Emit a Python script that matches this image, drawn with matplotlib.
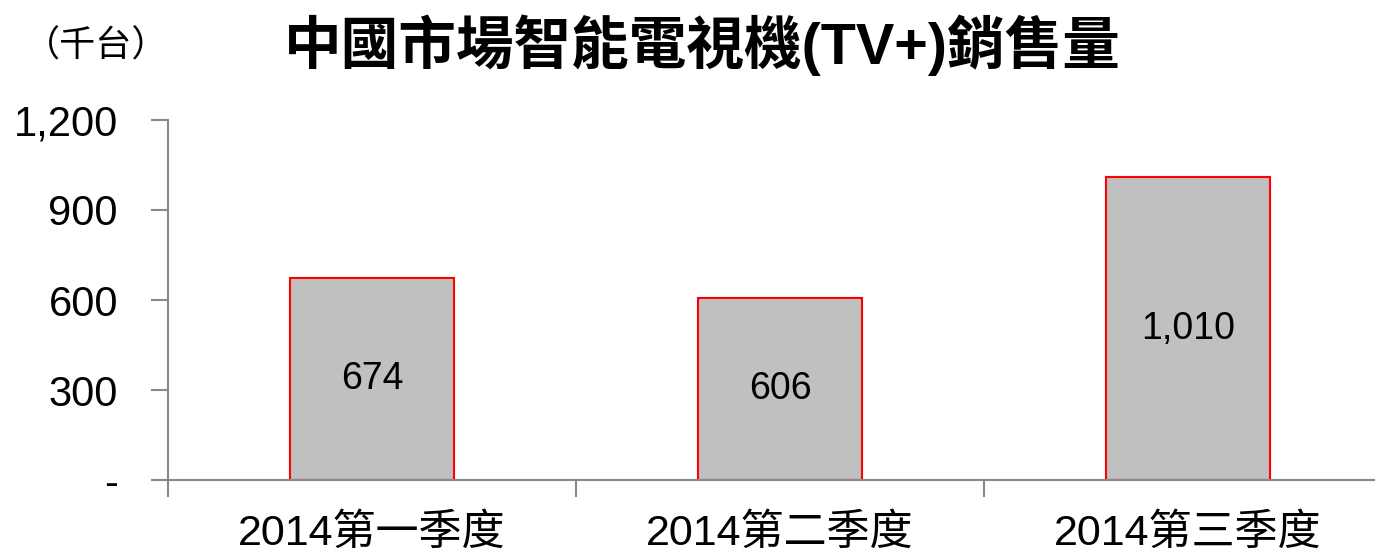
import matplotlib
matplotlib.use('Agg')
import matplotlib.pyplot as plt

plt.rcParams['font.family'] = ['Liberation Sans', 'Noto Sans CJK TC']

# Data
quarters = ['2014第一季度', '2014第二季度', '2014第三季度']
sales = [674, 606, 1010]
y_ticks = [0, 300, 600, 900, 1200]
y_labels = ['-', '300', '600', '900', '1,200']

W, H = 1375, 554
fig = plt.figure(figsize=(W / 100, H / 100), dpi=100)
# axes from x=168 to 1392 (runs past right edge), y from 480 (0) to 120 (1200)
ax = fig.add_axes([168 / W, (H - 480) / H, (1392 - 168) / W, 360 / H])

x = range(len(quarters))
bars = ax.bar(x, sales, width=0.4, color='#c0c0c0', edgecolor='red', linewidth=1.5, zorder=2)
for i, v in enumerate(sales):
    ax.text(i, v / 2, f'{v:,}', ha='center', va='center', fontsize=27, color='black')

ax.set_xlim(-0.5, 2.5)
ax.set_ylim(0, 1200)
ax.set_yticks(y_ticks)
ax.set_yticklabels(y_labels, fontsize=30)
ax.set_xticks([-0.5, 0.5, 1.5, 2.5], minor=False)
ax.set_xticklabels([])
ax.set_xticks(list(x), minor=True)
ax.set_xticklabels(quarters, minor=True, fontsize=31)
ax.tick_params(axis='x', which='minor', length=0, pad=24)
ax.tick_params(axis='x', which='major', length=12, color='#888888', width=1.5)
ax.tick_params(axis='y', length=12, color='#888888', width=1.5, pad=24)

for side in ['top', 'right']:
    ax.spines[side].set_visible(False)
for side in ['left', 'bottom']:
    ax.spines[side].set_color('#888888')
    ax.spines[side].set_linewidth(1.5)

fig.text(702 / W, 1 - 45 / H, '中國市場智能電視機(TV+)銷售量', ha='center', va='center',
         fontsize=41.5, fontweight='bold')
fig.text(96 / W, 1 - 47 / H, '（千台）', ha='center', va='center', fontsize=26)

fig.savefig('out.png', dpi=100)
